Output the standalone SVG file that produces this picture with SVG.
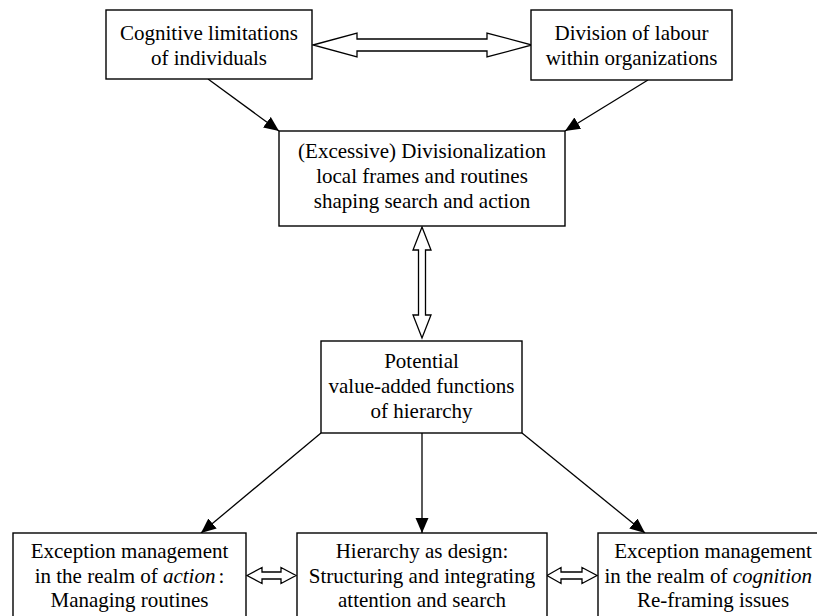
<svg xmlns="http://www.w3.org/2000/svg" width="817" height="616" viewBox="0 0 817 616">
<style>
  .box { fill: #fff; stroke: #000; stroke-width: 1.4; }
  .t { font-family: "Liberation Serif", "Times New Roman", serif; font-size: 21px; fill: #000; text-anchor: middle; }
  .line { stroke: #000; stroke-width: 1.3; fill: none; }
  .dbl { fill: #fff; stroke: #000; stroke-width: 1.3; stroke-linejoin: miter; }
</style>
<defs>
  <marker id="ah" markerUnits="userSpaceOnUse" markerWidth="16" markerHeight="14" refX="15" refY="6.5" orient="auto">
    <path d="M0,0 L15,6.5 L0,13 z" fill="#000"/>
  </marker>
</defs>
<rect width="817" height="616" fill="#fff"/>

<g id="connectors">
  <line class="line" x1="208" y1="79" x2="279" y2="131" marker-end="url(#ah)"/>
  <line class="line" x1="648" y1="80" x2="565" y2="131" marker-end="url(#ah)"/>
  <polygon class="dbl" points="313,45 357,33 357,39 487,39 487,33 532,45 487,57 487,51 357,51 357,57"/>
  <polygon class="dbl" points="422,227 431,250 425.5,250 425.5,315 431,315 422,338 413,315 418.5,315 418.5,250 413,250"/>
  <line class="line" x1="321" y1="433" x2="201" y2="533" marker-end="url(#ah)"/>
  <line class="line" x1="422" y1="433" x2="422" y2="533" marker-end="url(#ah)"/>
  <line class="line" x1="522" y1="433" x2="645" y2="533" marker-end="url(#ah)"/>
  <polygon class="dbl" points="247,575.5 262,567.5 262,572 281,572 281,567.5 296,575.5 281,583.5 281,579 262,579 262,583.5"/>
  <polygon class="dbl" points="547,575.5 561,567.5 561,572 582,572 582,567.5 597,575.5 582,583.5 582,579 561,579 561,583.5"/>
</g>

<g id="cognitive">
  <rect class="box" x="106" y="10" width="206" height="69"/>
  <text class="t" x="209" y="40">Cognitive limitations</text>
  <text class="t" x="209" y="65">of individuals</text>
</g>

<g id="division">
  <rect class="box" x="531" y="10" width="201" height="70"/>
  <text class="t" x="631.5" y="40">Division of labour</text>
  <text class="t" x="631.5" y="65">within organizations</text>
</g>

<g id="divisionalization">
  <rect class="box" x="279" y="131" width="286" height="95"/>
  <text class="t" x="422" y="158">(Excessive) Divisionalization</text>
  <text class="t" x="422" y="183">local frames and routines</text>
  <text class="t" x="422" y="208">shaping search and action</text>
</g>

<g id="potential">
  <rect class="box" x="321" y="341" width="201" height="92"/>
  <text class="t" x="421.5" y="368">Potential</text>
  <text class="t" x="421.5" y="393">value-added functions</text>
  <text class="t" x="421.5" y="418">of hierarchy</text>
</g>

<g id="exception-action">
  <rect class="box" x="13" y="533" width="233" height="100"/>
  <text class="t" x="129.5" y="558">Exception management</text>
  <text class="t" x="129.5" y="583">in the realm of <tspan font-style="italic">action</tspan><tspan dx="3">:</tspan></text>
  <text class="t" x="129.5" y="607">Managing routines</text>
</g>

<g id="design">
  <rect class="box" x="297" y="533" width="250" height="100"/>
  <text class="t" x="422" y="558">Hierarchy as design:</text>
  <text class="t" x="422" y="583">Structuring and integrating</text>
  <text class="t" x="422" y="607">attention and search</text>
</g>

<g id="exception-cognition">
  <rect class="box" x="598" y="533" width="232" height="100"/>
  <text class="t" x="713" y="558">Exception management</text>
  <text class="t" x="812" y="583" style="text-anchor:end">in the realm of <tspan font-style="italic">cognition</tspan></text>
  <text class="t" x="713" y="607">Re-framing issues</text>
</g>
</svg>
